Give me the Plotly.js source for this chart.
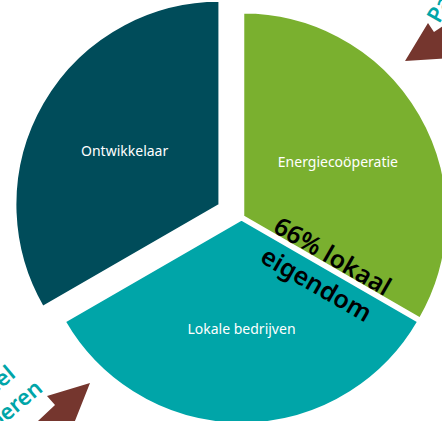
<!DOCTYPE html>
<html>
<head>
<meta charset="utf-8">
<script src="https://cdn.plot.ly/plotly-3.0.1.min.js"></script>
<style>
  html, body { margin: 0; padding: 0; width: 442px; height: 421px; overflow: hidden; background: #fff; }
  #chart { position: absolute; left: 0px; top: -12px; width: 471px; height: 459px; }
</style>
</head>
<body>
<div id="chart"></div>
<script>
// Data
var categories = ["Energiecoöperatie", "Lokale bedrijven", "Ontwikkelaar"];
var shares = [33.3, 33.3, 33.3];
var pulls = [0.01, 0.01, 0.125];
var sliceColors = ["#7ab02f", "#00a5a8", "#004c5a"];
var calloutText = "66% lokaal<br>eigendom";
var sideTextLeft = "Financieel<br>participeren";
var sideTextTop = "Participatie";

// Geometry helpers (div is 471x459, shifted 12px up)
var W = 471, H = 459, OFFY = -12;
function px(x) { return x / W; }
function py(y) { return 1 - (y - OFFY) / H; }
function pathFrom(points) {
  return points.map(function (p, i) { return (i ? "L" : "M") + px(p[0]).toFixed(4) + "," + py(p[1]).toFixed(4); }).join(" ") + " Z";
}

var trace = {
  type: "pie",
  labels: categories,
  values: shares,
  pull: pulls,
  sort: false,
  direction: "clockwise",
  rotation: 0,
  domain: { x: [12 / W, 1], y: [0, 1] },
  marker: { colors: sliceColors, line: { color: "#ffffff", width: 2 } },
  textinfo: "label",
  textposition: "inside",
  insidetextorientation: "horizontal",
  textfont: { family: "Noto Sans, Open Sans, sans-serif", size: 14, color: "#ffffff" },
  hoverinfo: "none",
  showlegend: false
};

var arrowColor = "#75362e";
var layout = {
  width: W,
  height: H,
  margin: { l: 0, r: 0, t: 0, b: 0, pad: 0 },
  paper_bgcolor: "#ffffff",
  showlegend: false,
  shapes: [
    { type: "path", xref: "paper", yref: "paper", fillcolor: arrowColor, line: { width: 0 },
      path: pathFrom([[405, 61], [428, 23], [434, 32], [452, 20], [452, 58]]) },
    { type: "path", xref: "paper", yref: "paper", fillcolor: arrowColor, line: { width: 0 },
      path: pathFrom([[90, 383], [47, 396], [55, 405], [22, 436], [69, 436]]) }
  ],
  annotations: [
    { text: calloutText, xref: "paper", yref: "paper", x: px(325), y: py(269),
      xanchor: "center", yanchor: "middle", showarrow: false, textangle: 30, align: "center",
      font: { family: "Noto Sans, Open Sans, sans-serif", size: 25, color: "#000000", weight: 600 } },
    { text: sideTextLeft, xref: "paper", yref: "paper", x: px(-22), y: py(415),
      xanchor: "center", yanchor: "middle", showarrow: false, textangle: -40, align: "center",
      font: { family: "Noto Sans, Open Sans, sans-serif", size: 22, color: "#00a5a8", weight: 600 } },
    { text: sideTextTop, xref: "paper", yref: "paper", x: px(462), y: py(-33),
      xanchor: "center", yanchor: "middle", showarrow: false, textangle: -60, align: "center",
      font: { family: "Noto Sans, Open Sans, sans-serif", size: 22, color: "#00a5a8", weight: 600 } }
  ]
};

Plotly.newPlot("chart", [trace], layout, { staticPlot: true, displayModeBar: false });
</script>
</body>
</html>
